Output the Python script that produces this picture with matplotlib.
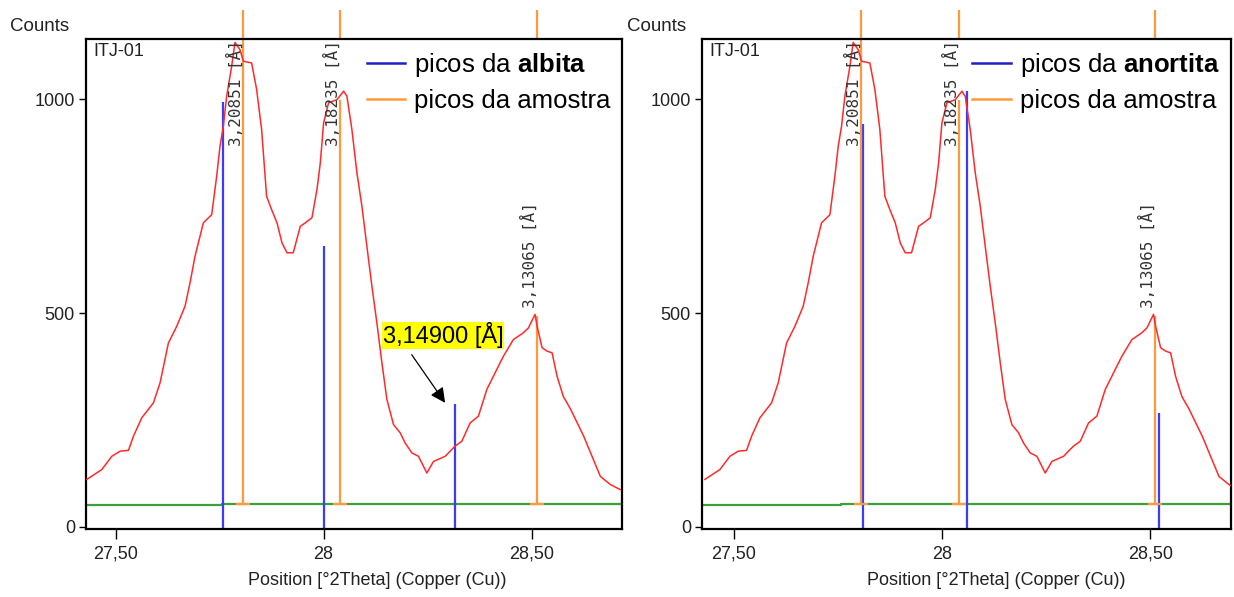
import numpy as np
import matplotlib
matplotlib.use("Agg")
import matplotlib.pyplot as plt
from matplotlib.lines import Line2D

plt.rcParams['font.family'] = ['Liberation Sans', 'DejaVu Sans']
plt.rcParams['mathtext.fontset'] = 'custom'
plt.rcParams['mathtext.rm'] = 'Liberation Sans'
plt.rcParams['mathtext.bf'] = 'Liberation Sans:bold'

# measured pattern (same sample in both panels)
two_theta = [27.431, 27.467, 27.491, 27.511, 27.531, 27.543, 27.563, 27.591, 27.607, 27.627,
             27.647, 27.667, 27.679, 27.691, 27.711, 27.731, 27.743, 27.751, 27.759, 27.767,
             27.779, 27.787, 27.799, 27.807, 27.827, 27.839, 27.851, 27.863, 27.875, 27.888,
             27.900, 27.912, 27.927, 27.944, 27.956, 27.972, 27.984, 27.992, 28.000, 28.012,
             28.032, 28.048, 28.056, 28.068, 28.080, 28.092, 28.104, 28.116, 28.128, 28.140,
             28.152, 28.168, 28.184, 28.196, 28.212, 28.228, 28.248, 28.264, 28.292, 28.316,
             28.332, 28.352, 28.372, 28.392, 28.416, 28.432, 28.456, 28.480, 28.492, 28.508,
             28.513, 28.525, 28.537, 28.549, 28.561, 28.576, 28.593, 28.625, 28.645, 28.665,
             28.689, 28.713]
counts = [111, 134, 165, 177, 179, 212, 255, 290, 337, 430,
          469, 516, 571, 633, 711, 730, 820, 890, 937, 1007,
          1077, 1133, 1116, 1089, 1085, 1023, 929, 773, 742, 711,
          664, 641, 641, 703, 711, 723, 789, 851, 945, 992,
          999, 1019, 1007, 929, 828, 750, 656, 563, 477, 384,
          298, 239, 220, 196, 173, 165, 126, 153, 165, 189,
          200, 243, 259, 321, 368, 399, 438, 454, 465, 497,
          469, 419, 411, 407, 352, 305, 276, 212, 165, 118,
          99, 87]

# background
base_x = [27.40, 27.757, 27.757, 28.75]
base_y = [50, 50, 54.5, 54.5]

# peaks found in the sample
sample_pos = [27.806, 28.040, 28.512]
sample_h = [1141, 999, 493]
sample_lab = ["3,20851 [Å]", "3,18235 [Å]", "3,13065 [Å]"]

# reference patterns
albita_pos = [27.759, 28.001, 28.315]
albita_h = [994, 657, 288]
anortita_pos = [27.810, 28.060, 28.521]
anortita_h = [942, 1019, 267]

xticks = [27.5, 28.0, 28.5]
xticklabels = ["27,50", "28", "28,50"]
yticks = [0, 500, 1000]

RED = '#FF2A2A'
BLUE = '#3B3BFF'
ORANGE = '#FF9A3C'
GREEN = '#3AA03A'
TXT = '#222222'

fig = plt.figure(figsize=(12.34, 5.97), dpi=100)
ax1 = fig.add_axes([86/1234, 68/597, 536/1234, 490/597])
ax2 = fig.add_axes([702/1234, 68/597, 529/1234, 490/597])


def draw_panel(ax, ref_pos, ref_h, ref_name, xlim, xlab_x):
    ymin, ymax = -5, 1141
    ax.set_xlim(*xlim)
    ax.set_ylim(ymin, ymax)

    ax.plot(base_x, base_y, color=GREEN, lw=1.6, zorder=1)

    # reference lines from the bottom
    ax.vlines(ref_pos, ymin, ref_h, color=BLUE, lw=1.6, zorder=2)

    # sample peaks from the background, plus markers above the frame
    ax.vlines(sample_pos, 54.5, sample_h, color=ORANGE, lw=1.6, zorder=2)
    ax.plot(sample_pos, [54.5] * 3, ls='none', marker='_', ms=10, mew=1.6,
            color=ORANGE, zorder=2)
    ax.vlines(sample_pos, 1.0, 1.06, color=ORANGE, lw=1.6,
              transform=ax.get_xaxis_transform(), clip_on=False)

    ax.plot(two_theta, counts, color=RED, lw=1.1, zorder=3)

    for x, h, lab in zip(sample_pos, sample_h, sample_lab):
        ax.text(x + 0.002, min(h + 18, 891), lab, rotation=90, ha='right', va='bottom',
                fontsize=11.5, family='DejaVu Sans Mono', color='#333333', zorder=4)

    ax.text(0.013, 0.992, "ITJ-01", transform=ax.transAxes, ha='left', va='top',
            fontsize=13, color=TXT)
    ax.text(-0.142, 1.0245, "Counts", transform=ax.transAxes, ha='left', va='center',
            fontsize=13.5, color=TXT)

    handles = [Line2D([], [], color='#2020C8', lw=1.8),
               Line2D([], [], color=ORANGE, lw=1.8)]
    labels = [r"picos da $\bf{" + ref_name + "}$", "picos da amostra"]
    ax.legend(handles, labels, loc='upper right', frameon=False, fontsize=18.5,
              handlelength=1.5, handletextpad=0.35, labelspacing=0.42,
              borderpad=0.1, borderaxespad=0.35)

    ax.set_xticks(xticks)
    ax.set_xticklabels(xticklabels)
    ax.set_yticks(yticks)
    ax.tick_params(axis='both', direction='out', colors='black', labelcolor=TXT,
                   labelsize=13, width=1.0)
    ax.tick_params(axis='x', length=7, pad=5)
    ax.tick_params(axis='y', length=5, pad=3)
    for s in ax.spines.values():
        s.set_linewidth(1.6)

    ax.set_xlabel("Position [°2Theta] (Copper (Cu))", fontsize=13, color=TXT)
    ax.xaxis.set_label_coords(xlab_x, -0.088)


draw_panel(ax1, albita_pos, albita_h, "albita", (27.429, 28.717), 0.543)
draw_panel(ax2, anortita_pos, anortita_h, "anortita", (27.424, 28.694), 0.556)

ax1.annotate("3,14900 [Å]", xy=(28.292, 290), xytext=(28.143, 448),
             ha='left', va='center', fontsize=17, color='black',
             bbox=dict(facecolor='#FFFF00', edgecolor='none', pad=0.5),
             arrowprops=dict(arrowstyle='-|>,head_length=0.6,head_width=0.3',
                             color='black', lw=0.9, mutation_scale=15,
                             relpos=(0.2, 0.0), shrinkA=5, shrinkB=0),
             zorder=5)

fig.savefig("out.png", dpi=100, facecolor='white')
